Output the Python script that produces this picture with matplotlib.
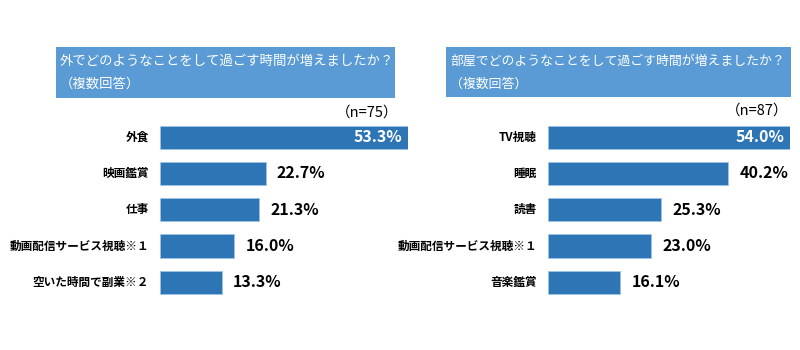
import matplotlib.pyplot as plt
from matplotlib.patches import Rectangle

plt.rcParams['font.family'] = ['Noto Sans CJK JP', 'DejaVu Sans']

# データ
left_title = ['外でどのようなことをして過ごす時間が増えましたか？', '（複数回答）']
left_n = '（n=75）'
left_labels = ['外食', '映画鑑賞', '仕事', '動画配信サービス視聴※１', '空いた時間で副業※２']
left_values = [53.3, 22.7, 21.3, 16.0, 13.3]

right_title = ['部屋でどのようなことをして過ごす時間が増えましたか？', '（複数回答）']
right_n = '（n=87）'
right_labels = ['TV視聴', '睡眠', '読書', '動画配信サービス視聴※１', '音楽鑑賞']
right_values = [54.0, 40.2, 25.3, 23.0, 16.1]

W, H = 800, 350
bar_color = '#2E75B6'
box_color = '#5B9BD5'

fig = plt.figure(figsize=(8, 3.5), dpi=100)


def px(x0, y0, x1, y1):
    # pixel box (top-left origin) -> figure fraction [l, b, w, h]
    return [x0 / W, 1 - y1 / H, (x1 - x0) / W, (y1 - y0) / H]


def panel(ax_box, title_box, title, title_size, n_text, n_pos, labels, values):
    ax = fig.add_axes(px(*ax_box))
    ypos = range(len(values))
    ax.barh(ypos, values, height=0.64, color=bar_color, edgecolor='#9DC3E6', linewidth=0.6)
    ax.set_xlim(0, max(values))
    ax.set_ylim(len(values) - 0.5, -0.5)
    ax.axis('off')
    for i, (lab, v) in enumerate(zip(labels, values)):
        ax.annotate(lab, (0, i), xytext=(-8, 0), textcoords='offset points',
                    ha='right', va='center', fontsize=8.4, fontweight='bold', color='black')
        if i == 0:
            ax.annotate(f'{v:.1f}%', (v, i), xytext=(-4, 0), textcoords='offset points',
                        ha='right', va='center', fontsize=11.5, fontweight='bold', color='white')
        else:
            ax.annotate(f'{v:.1f}%', (v, i), xytext=(8, 0), textcoords='offset points',
                        ha='left', va='center', fontsize=11.5, fontweight='bold', color='black')

    x0, y0, x1, y1 = title_box
    fig.patches.append(Rectangle((x0 / W, 1 - y1 / H), (x1 - x0) / W, (y1 - y0) / H,
                                 transform=fig.transFigure, facecolor=box_color,
                                 edgecolor='none', zorder=0))
    fig.text((x0 + 4) / W, 1 - 61 / H, title[0], color='white', fontsize=title_size,
             ha='left', va='center')
    fig.text((x0 + 4) / W, 1 - 84 / H, title[1], color='white', fontsize=title_size,
             ha='left', va='center')
    fig.text(n_pos[0] / W, 1 - n_pos[1] / H, n_text, fontsize=10.5, ha='right', va='center',
             color='black')


panel((160, 119, 408, 300.5), (56, 47, 395, 98), left_title, 9.6, left_n, (398, 113),
      left_labels, left_values)
panel((548, 119, 790, 300.5), (446, 47, 791, 97), right_title, 9.3, right_n, (788, 111),
      right_labels, right_values)

fig.savefig('out.png', dpi=100)
